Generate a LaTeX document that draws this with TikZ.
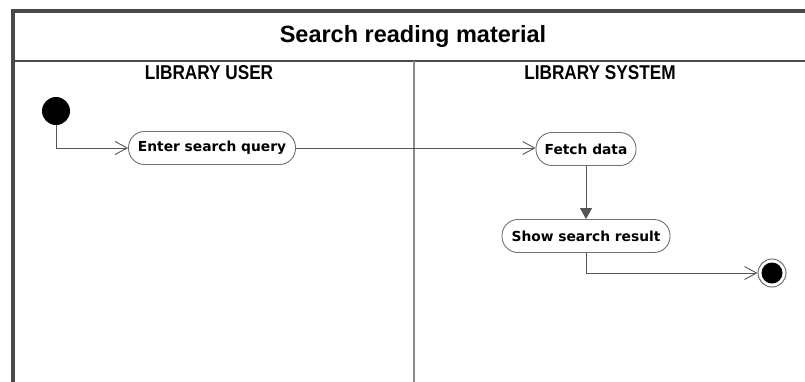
\documentclass[tikz,border=0pt]{standalone}
\usepackage{fontspec}
\setmainfont{Liberation Sans}
\newfontfamily\actfont{DejaVu Sans}
\usetikzlibrary{arrows.meta}
\definecolor{frameC}{HTML}{4A4A4A}
\definecolor{laneC}{HTML}{8A8A8A}
\definecolor{flowC}{HTML}{555555}
\definecolor{boxC}{HTML}{707070}
\tikzset{
  act/.style={draw=boxC, line width=0.9pt, rounded corners=16pt, fill=white,
    minimum height=33pt, inner xsep=8pt, inner ysep=0pt,
    font=\actfont\bfseries\fontsize{13.8pt}{16pt}\selectfont},
  flow/.style={draw=flowC, line width=0.9pt},
  openhead/.style={-{Straight Barb[length=12pt,width=13pt,line width=0.9pt]}},
  filledhead/.style={-{Triangle[length=11pt,width=12pt]}},
  lanehead/.style={font=\bfseries\fontsize{20pt}{23pt}\selectfont},
}
\begin{document}
\begin{tikzpicture}[x=1pt,y=-1pt]
\useasboundingbox (0,0) rectangle (805,381);
\clip (0,0) rectangle (805,381);
% frame
\draw[draw=frameC, line width=4pt] (13,11) rectangle (830,400);
\draw[draw=frameC, line width=1.4pt] (13,61) -- (830,61);
\draw[draw=laneC, line width=1.6pt] (414,61) -- (414,400);
% headings
\node[font=\bfseries\fontsize{23.5pt}{26pt}\selectfont] (title) at (413,36) {Search reading material};
\node[lanehead] (lu) at (209,73) {\scalebox{0.86}[1]{LIBRARY USER}};
\node[lanehead] (ls) at (600,73) {\scalebox{0.86}[1]{LIBRARY SYSTEM}};
% nodes
\node[circle, fill=black, minimum size=28pt, inner sep=0pt] (start) at (56,111) {};
\node[act, minimum width=167pt] (enter) at (212,148) {Enter search query};
\node[act, minimum width=100pt] (fetch) at (586,149) {Fetch data};
\node[act, minimum width=168pt] (show) at (586,236) {Show search result};
\node[circle, draw=boxC, line width=1pt, fill=white, minimum size=28pt, inner sep=0pt] (endn) at (772,273) {};
\node[circle, fill=black, minimum size=21pt, inner sep=0pt] (endin) at (772,273) {};
% connectors
\draw[flow, openhead] (start.south) |- (enter.west);
\draw[flow, openhead] (enter.east) -- (fetch.west |- enter.east);
\draw[flow, filledhead] (fetch.south) -- (show.north);
\draw[flow, openhead] (show.south) |- (endn.west);
\end{tikzpicture}
\end{document}
